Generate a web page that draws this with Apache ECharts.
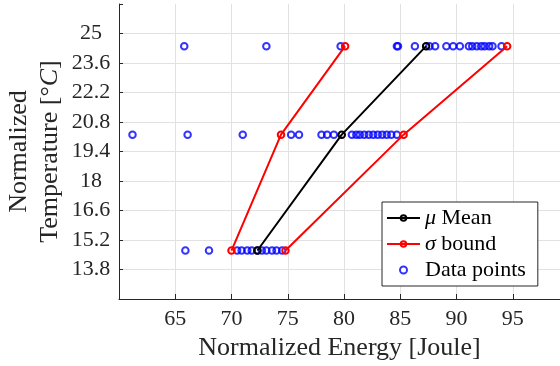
<!DOCTYPE html>
<html>
<head>
<meta charset="utf-8">
<script src="https://cdn.jsdelivr.net/npm/echarts@6/dist/echarts.min.js"></script>
<style>
  html, body { margin: 0; padding: 0; background: #fff; }
  #chart { width: 560px; height: 366px; }
</style>
</head>
<body>
<div id="chart"></div>
<script>
// Temperature levels (rows) and the energy readings observed at each level
const tempLevels = [14.7, 20.2, 24.4];
const energyLow  = [65.9, 68.0, 70.5, 70.9, 71.4, 71.8, 72.3, 72.7, 73.1, 73.6, 74.0, 74.5];
const energyMid  = [61.2, 66.1, 71.0, 75.3, 76.0, 78.0, 78.5, 79.1, 80.7, 81.1, 81.4, 81.8,
                    82.2, 82.6, 83.0, 83.4, 83.8, 84.2, 84.7];
const energyHigh = [65.8, 73.1, 79.7, 84.7, 84.8, 86.3, 87.6, 88.1, 89.1, 89.7, 90.3, 91.1,
                    91.4, 91.8, 92.2, 92.5, 92.9, 93.2, 94.0];

// Per-level statistics: mean and the one-sigma band
const meanEnergy  = [72.3, 79.8, 87.3];
const sigmaLower  = [70.0, 74.4, 80.1];
const sigmaUpper  = [74.8, 85.3, 94.5];

// Axis tick labels
const xTicks = [65, 70, 75, 80, 85, 90, 95];
const yTicks = [13.8, 15.2, 16.6, 18, 19.4, 20.8, 22.2, 23.6, 25];

const FONT = 'Liberation Serif';
const AXIS_COLOR = '#262626';
const GRID_COLOR = '#e1e1e1';

const pointsData = [];
[energyLow, energyMid, energyHigh].forEach((row, i) => {
  row.forEach(e => pointsData.push([e, tempLevels[i]]));
});
const pairUp = arr => arr.map((e, i) => [e, tempLevels[i]]);

function tickFormatter(ticks) {
  return v => {
    const t = ticks.find(t => Math.abs(t - v) < 1e-6);
    return t === undefined ? '' : String(t);
  };
}

const lineSeries = (name, values, color) => ({
  name: name,
  type: 'line',
  data: pairUp(values),
  symbol: 'circle',
  symbolSize: 6.5,
  showSymbol: true,
  z: 3,
  lineStyle: { color: color, width: 2 },
  itemStyle: { color: 'rgba(255,255,255,0)', borderColor: color, borderWidth: 2 },
  emphasis: { disabled: true },
  animation: false
});

const chart = echarts.init(document.getElementById('chart'), null, { renderer: 'canvas' });
chart.setOption({
  animation: false,
  backgroundColor: '#ffffff',
  grid: { left: 119, top: 4, right: 0, bottom: 67, containLabel: false, outerBoundsMode: 'none' },
  xAxis: {
    type: 'value',
    min: 60,
    max: 99.2,
    interval: 5,
    name: 'Normalized Energy [Joule]',
    nameLocation: 'middle',
    nameGap: 36,
    nameMoveOverlap: false,
    nameTextStyle: { fontFamily: FONT, fontSize: 26, color: AXIS_COLOR },
    axisLine: { show: true, onZero: false, lineStyle: { color: AXIS_COLOR, width: 1 } },
    axisTick: { show: true, inside: true, length: 5, lineStyle: { color: AXIS_COLOR } },
    axisLabel: {
      formatter: tickFormatter(xTicks),
      fontFamily: FONT, fontSize: 22, color: AXIS_COLOR, margin: 9,
      showMinLabel: true, showMaxLabel: true, hideOverlap: false
    },
    splitLine: { show: true, showMinLine: false, showMaxLine: false, lineStyle: { color: GRID_COLOR, width: 1 } }
  },
  yAxis: {
    type: 'value',
    min: 12.4,
    max: 26.4,
    interval: 1.4,
    name: '{n|Normalized}\n{n|Temperature [°}{i|C}{n|]}',
    nameLocation: 'middle',
    nameRotate: 90,
    nameGap: 53,
    nameMoveOverlap: false,
    nameTextStyle: {
      fontFamily: FONT, fontSize: 26, color: AXIS_COLOR, lineHeight: 31,
      rich: {
        n: { fontFamily: FONT, fontSize: 26, color: AXIS_COLOR, lineHeight: 31 },
        i: { fontFamily: FONT, fontSize: 26, color: AXIS_COLOR, lineHeight: 31, fontStyle: 'italic' }
      }
    },
    axisLine: { show: true, onZero: false, lineStyle: { color: AXIS_COLOR, width: 1 } },
    axisTick: { show: true, inside: true, length: 4, lineStyle: { color: AXIS_COLOR } },
    axisLabel: {
      formatter: tickFormatter(yTicks),
      fontFamily: FONT, fontSize: 22, color: AXIS_COLOR, margin: 28, align: 'center',
      showMinLabel: true, showMaxLabel: true, hideOverlap: false
    },
    splitLine: { show: true, showMinLine: false, showMaxLine: false, lineStyle: { color: GRID_COLOR, width: 1 } }
  },
  legend: {
    orient: 'vertical',
    left: 382,
    top: 202,
    padding: [5, 12, 5, 4],
    itemGap: 4,
    itemWidth: 33,
    itemHeight: 7,
    backgroundColor: '#ffffff',
    borderColor: AXIS_COLOR,
    borderWidth: 1,
    borderRadius: 0,
    selectedMode: false,
    data: ['μ Mean', 'σ bound', 'Data points'],
    formatter: name => {
      if (name === 'μ Mean') return '{i|μ} Mean';
      if (name === 'σ bound') return '{i|σ} bound';
      return name;
    },
    textStyle: {
      fontFamily: FONT, fontSize: 22, color: '#000', lineHeight: 21,
      rich: {
        i: { fontFamily: FONT, fontSize: 22, color: '#000', fontStyle: 'italic', lineHeight: 21 }
      }
    }
  },
  series: [
    {
      name: 'Data points',
      type: 'scatter',
      data: pointsData,
      symbol: 'circle',
      symbolSize: 6.5,
      z: 2,
      itemStyle: { color: 'rgba(255,255,255,0)', borderColor: '#0000ff', borderWidth: 2 },
      emphasis: { disabled: true }
    },
    lineSeries('μ Mean', meanEnergy, '#000000'),
    lineSeries('σ bound', sigmaLower, '#ff0000'),
    lineSeries('σ bound', sigmaUpper, '#ff0000')
  ]
});
</script>
</body>
</html>
